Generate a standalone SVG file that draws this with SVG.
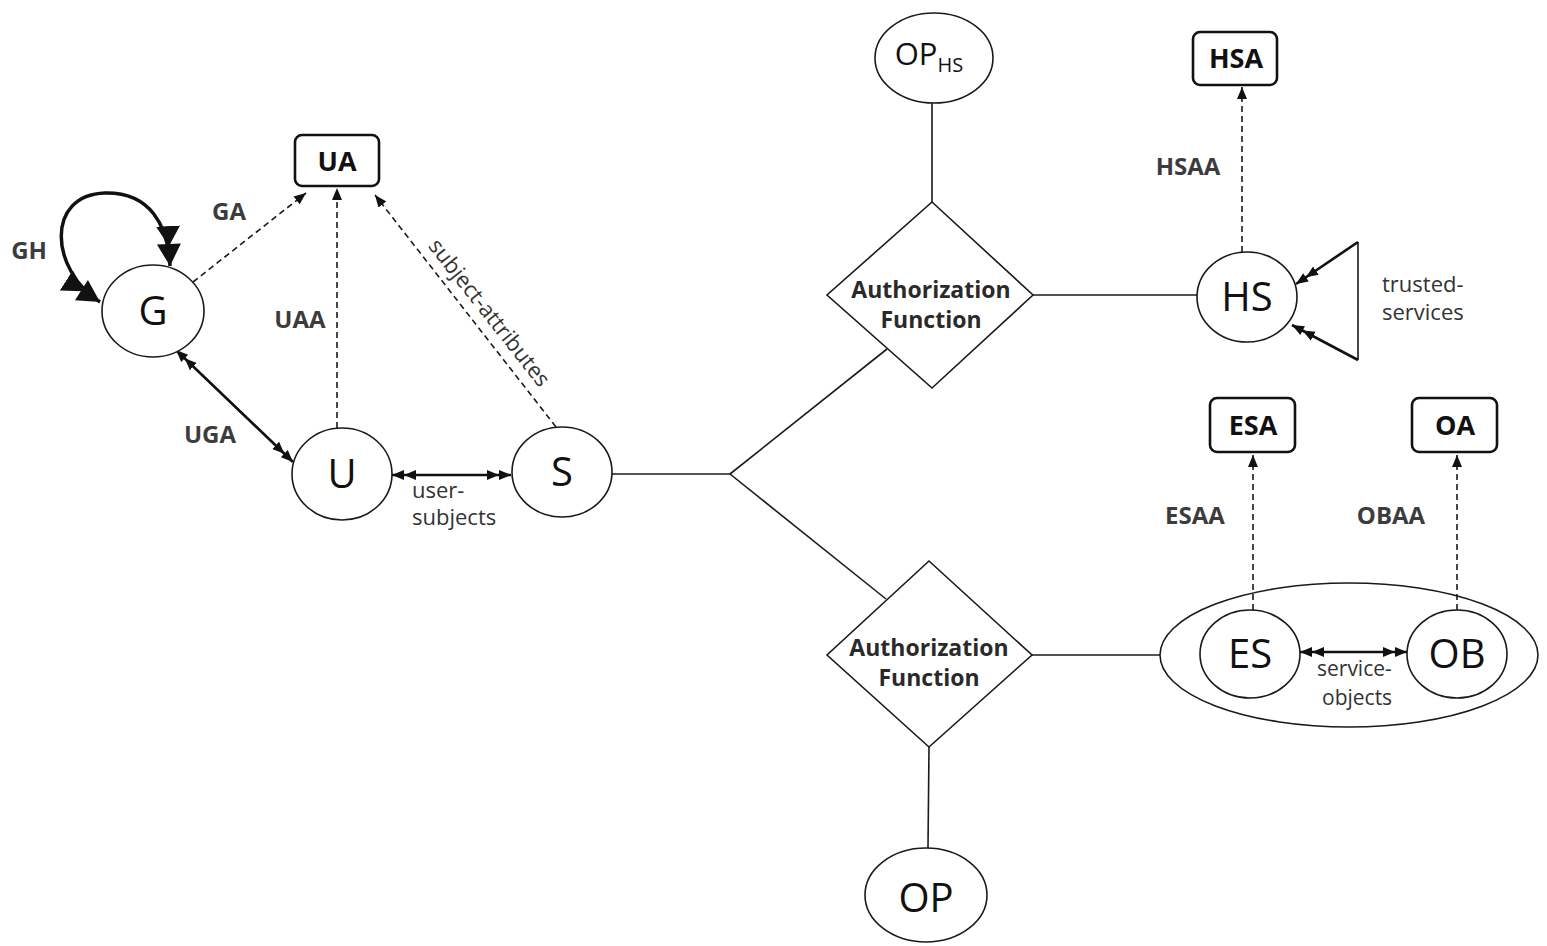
<svg xmlns="http://www.w3.org/2000/svg" width="1547" height="946" viewBox="0 0 1547 946">
<style>
.node{fill:#fff;stroke:#1a1a1a;stroke-width:1.6}
.box{fill:#fff;stroke:#111;stroke-width:2.6}
.nl{font-family:"Open Sans","DejaVu Sans",sans-serif;font-size:40px;fill:#111;text-anchor:middle}
.bl{font-family:"Open Sans","DejaVu Sans",sans-serif;font-size:27px;font-weight:bold;fill:#111;text-anchor:middle}
.lab{font-family:"Open Sans","DejaVu Sans",sans-serif;font-size:24px;font-weight:bold;fill:#3c3c3c;text-anchor:middle}
.sm{font-family:"Open Sans","DejaVu Sans",sans-serif;font-size:22px;fill:#333;text-anchor:start}
.af{font-family:"Open Sans","DejaVu Sans",sans-serif;font-size:23px;font-weight:bold;fill:#2a2a2a;text-anchor:middle}
.thin{fill:none;stroke:#1a1a1a;stroke-width:1.6}
.dash{fill:none;stroke:#1a1a1a;stroke-width:1.6;stroke-dasharray:6 4;marker-end:url(#ah)}
.dbl{fill:none;stroke:#111;stroke-width:2.6;marker-start:url(#dh);marker-end:url(#dh)}
.one{fill:none;stroke:#111;stroke-width:2.6;marker-end:url(#dh)}
</style>
<defs>
<marker id="ah" markerUnits="userSpaceOnUse" viewBox="0 0 12 10" refX="12" refY="5" markerWidth="12" markerHeight="10" orient="auto-start-reverse"><path d="M0,0 L12,5 L0,10 z" fill="#111"/></marker>
<marker id="dh" markerUnits="userSpaceOnUse" viewBox="0 0 24 12" refX="24" refY="6" markerWidth="24" markerHeight="12" orient="auto-start-reverse"><path d="M0,1 L12,6 L0,11 z M12,1 L24,6 L12,11 z" fill="#111"/></marker>
<marker id="bh" markerUnits="userSpaceOnUse" viewBox="0 0 40 26" refX="40" refY="13" markerWidth="40" markerHeight="26" orient="auto-start-reverse"><path d="M0,1 L20,13 L0,25 z M18,1 L40,13 L18,25 z" fill="#111"/></marker>
</defs>

<g id="connectors">
<path d="M100,302 C50,270 45,195 105,193 C150,192 168,225 170,266" fill="none" stroke="#111" stroke-width="3.5" marker-start="url(#bh)" marker-end="url(#bh)"/>
<line class="dash" x1="193" y1="282" x2="306" y2="193"/>
<line class="dash" x1="337" y1="428" x2="337" y2="188"/>
<line class="dash" x1="556" y1="427" x2="375" y2="195"/>
<line class="dbl" x1="176" y1="350" x2="293" y2="462"/>
<line class="dbl" x1="392" y1="475" x2="511" y2="475"/>
<line class="thin" x1="612" y1="474" x2="730" y2="474"/>
<line class="thin" x1="730" y1="474" x2="887" y2="349"/>
<line class="thin" x1="730" y1="474" x2="886" y2="599"/>
<line class="thin" x1="932" y1="102" x2="932" y2="202"/>
<line class="thin" x1="1033" y1="295" x2="1197" y2="295"/>
<line class="dash" x1="1242" y1="252" x2="1242" y2="87"/>
<line class="thin" x1="1358" y1="242" x2="1358" y2="360"/>
<line class="one" x1="1358" y1="242" x2="1296" y2="284"/>
<line class="one" x1="1358" y1="360" x2="1292" y2="325"/>
<line class="thin" x1="1032" y1="655" x2="1160" y2="655"/>
<line class="thin" x1="929" y1="747" x2="928" y2="848"/>
<line class="dash" x1="1253" y1="610" x2="1253" y2="455"/>
<line class="dash" x1="1457" y1="610" x2="1457" y2="455"/>
<line class="dbl" x1="1300" y1="652" x2="1407" y2="652"/>
<text class="lab" x="29" y="259">GH</text>
<text class="lab" x="229" y="220">GA</text>
<text class="lab" x="300" y="328">UAA</text>
<text class="lab" x="210" y="443">UGA</text>
<text class="sm" x="412" y="498">user-</text>
<text class="sm" x="412" y="525">subjects</text>
<text class="sm" transform="translate(489,313) rotate(51.7)" x="0" y="7" style="text-anchor:middle">subject-attributes</text>
<text class="lab" x="1188" y="175">HSAA</text>
<text class="sm" x="1382" y="292">trusted-</text>
<text class="sm" x="1382" y="320">services</text>
<text class="lab" x="1195" y="524">ESAA</text>
<text class="lab" x="1391" y="524">OBAA</text>
<text class="sm" x="1317" y="676" style="font-size:21px">service-</text>
<text class="sm" x="1322" y="705" style="font-size:21px">objects</text>
</g>

<g id="node-G"><ellipse class="node" cx="153" cy="311" rx="51" ry="46"/><text class="nl" x="153" y="325">G</text></g>
<g id="node-UA"><rect class="box" x="295" y="135" width="84" height="51" rx="7"/><text class="bl" x="337" y="171">UA</text></g>
<g id="node-U"><ellipse class="node" cx="342" cy="474" rx="50" ry="46"/><text class="nl" x="342" y="488">U</text></g>
<g id="node-S"><ellipse class="node" cx="562" cy="472" rx="50" ry="45"/><text class="nl" x="562" y="486">S</text></g>
<g id="node-OPHS"><ellipse class="node" cx="934" cy="58" rx="59" ry="45"/><text class="nl" x="929" y="65" style="font-size:31px">OP<tspan style="font-size:20px" dy="7">HS</tspan></text></g>
<g id="node-AF1"><polygon class="node" points="932,202 1033,295 932,388 827,295"/><text class="af" x="931" y="298">Authorization</text><text class="af" x="931" y="328">Function</text></g>
<g id="node-AF2"><polygon class="node" points="929,561 1032,655 929,747 827,655"/><text class="af" x="929" y="656">Authorization</text><text class="af" x="929" y="686">Function</text></g>
<g id="node-OP"><ellipse class="node" cx="926" cy="895" rx="61" ry="47"/><text class="nl" x="926" y="912">OP</text></g>
<g id="node-HSA"><rect class="box" x="1193" y="32" width="84" height="53" rx="7"/><text class="bl" x="1236" y="68">HSA</text></g>
<g id="node-HS"><ellipse class="node" cx="1247" cy="297" rx="50" ry="45"/><text class="nl" x="1247" y="311">HS</text></g>
<g id="node-ESA"><rect class="box" x="1210" y="398" width="85" height="54" rx="7"/><text class="bl" x="1253" y="435">ESA</text></g>
<g id="node-OA"><rect class="box" x="1412" y="398" width="85" height="54" rx="7"/><text class="bl" x="1455" y="435">OA</text></g>
<g id="node-group"><ellipse class="node" cx="1349" cy="655" rx="189" ry="72" style="fill:none"/></g>
<g id="node-ES"><ellipse class="node" cx="1250" cy="654" rx="50" ry="44"/><text class="nl" x="1250" y="668">ES</text></g>
<g id="node-OB"><ellipse class="node" cx="1457" cy="654" rx="50" ry="44"/><text class="nl" x="1457" y="668">OB</text></g>
</svg>
